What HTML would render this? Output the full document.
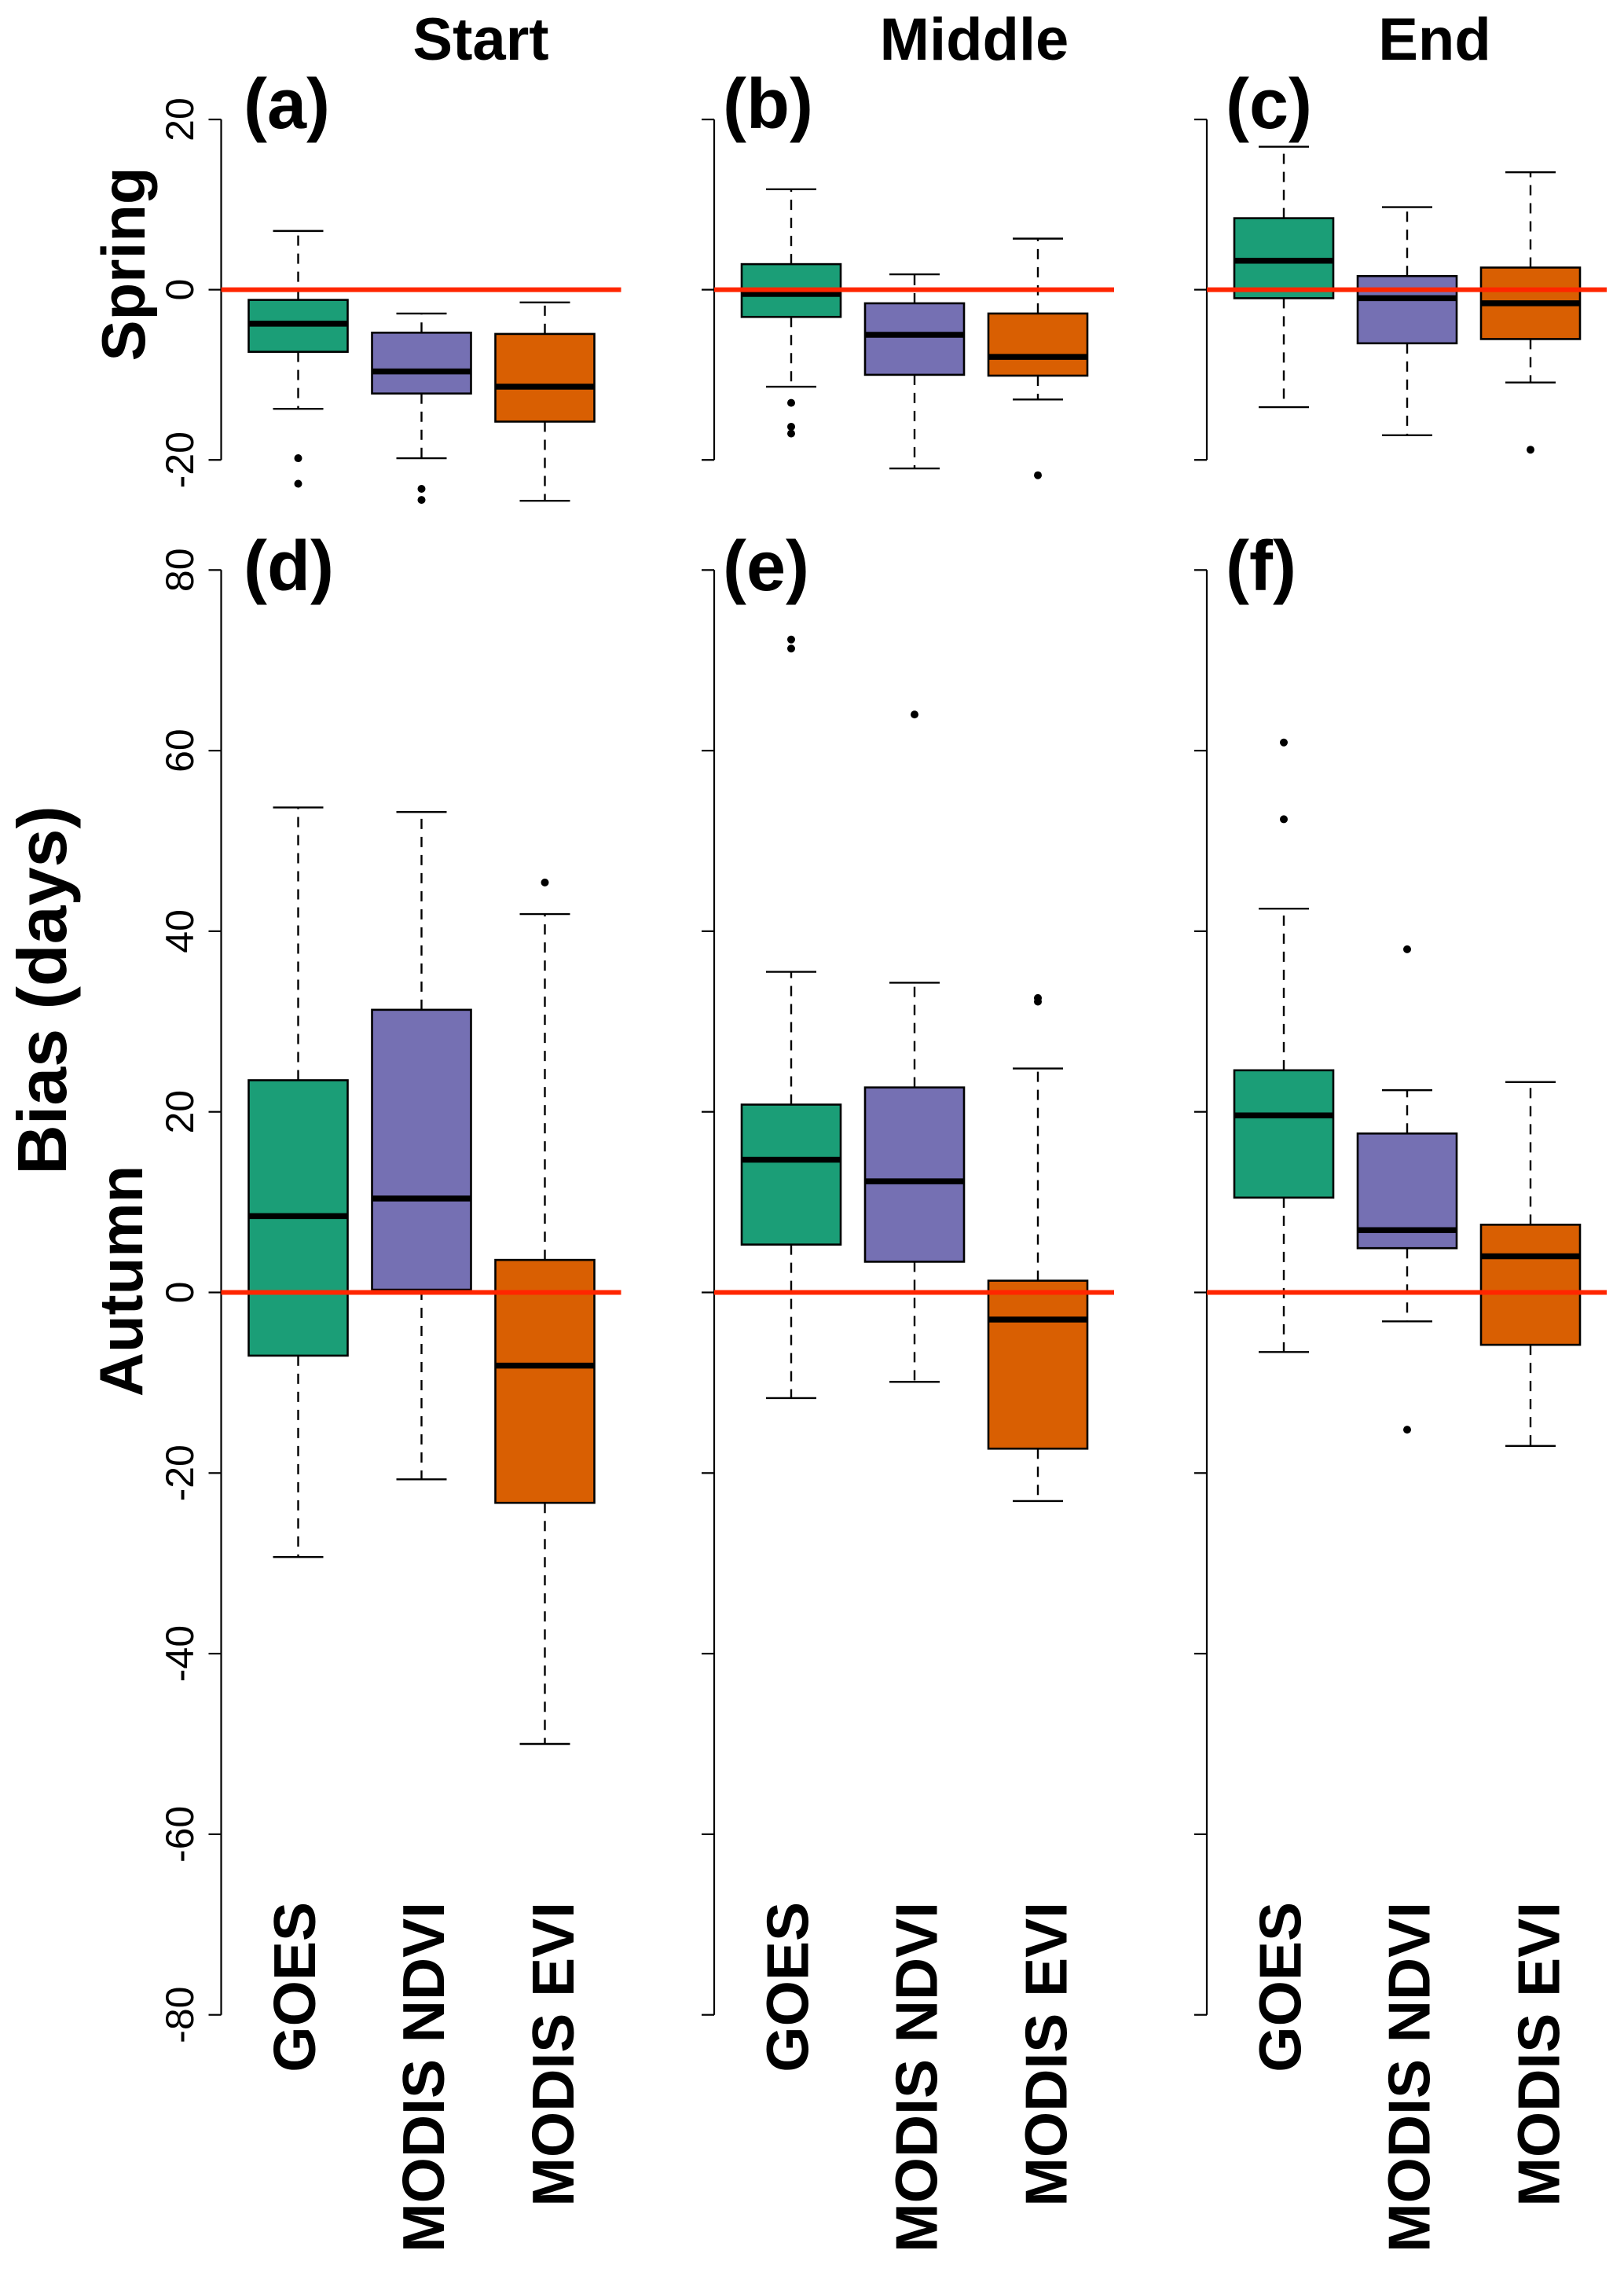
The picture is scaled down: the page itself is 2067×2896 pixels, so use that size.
<!DOCTYPE html>
<html><head><meta charset="utf-8"><style>
html,body{margin:0;padding:0;background:#fff;}
svg{display:block;}
text{font-family:"Liberation Sans",Arial,sans-serif;fill:#000;}
</style></head><body>
<svg id="chart" width="2067" height="2896" viewBox="0 0 2067 2896" xmlns="http://www.w3.org/2000/svg"></svg>
<script>
const categories = ["GOES", "MODIS NDVI", "MODIS EVI"];
const columnTitles = ["Start", "Middle", "End"];
const panelLetters = ["(a)", "(b)", "(c)", "(d)", "(e)", "(f)"];
const springTicks = [-20, 0, 20];
const autumnTicks = [-80, -60, -40, -20, 0, 20, 40, 60, 80];
// per panel (a..f), per category: [lowerWhisker, q1, median, q3, upperWhisker]
const lowerWhisker = [[-14, -19.8, -24.8], [-11.4, -21.0, -12.9], [-13.8, -17.1, -10.9], [-29.3, -20.7, -50], [-11.7, -9.9, -23.1], [-6.6, -3.2, -17]];
const q1Values = [[-7.3, -12.2, -15.5], [-3.2, -10, -10.1], [-1.0, -6.3, -5.8], [-7.0, 0.3, -23.3], [5.3, 3.4, -17.3], [10.5, 4.9, -5.8]];
const medianValues = [[-4, -9.6, -11.4], [-0.5, -5.3, -7.9], [3.4, -1.0, -1.6], [8.45, 10.4, -8.1], [14.7, 12.3, -3.0], [19.6, 6.9, 4.0]];
const q3Values = [[-1.2, -5.05, -5.2], [3.0, -1.6, -2.8], [8.4, 1.6, 2.6], [23.5, 31.3, 3.6], [20.8, 22.7, 1.3], [24.6, 17.6, 7.5]];
const upperWhisker = [[6.9, -2.8, -1.5], [11.8, 1.8, 6.0], [16.8, 9.7, 13.8], [53.7, 53.2, 41.9], [35.5, 34.3, 24.8], [42.5, 22.4, 23.3]];
const outlierValues = [[[-19.8, -22.8], [-23.4, -24.7], []], [[-13.3, -16.1, -16.9], [], [-21.8]], [[], [], [-18.8]], [[], [], [45.4]], [[71.3, 72.3], [64.0], [32.2, 32.6]], [[52.4, 60.9], [38.0, -15.2], []]];
const referenceValue = 0;

const NS = "http://www.w3.org/2000/svg";
const svg = document.getElementById("chart");
const colors = ["#1b9e77", "#7570b3", "#d95f02"];
const axisX = [281.5, 909, 1536];
const titleX = [612, 1240, 1826];
const boxOffset = [98, 255, 412];
const labelOffset = [119.6, 283.7, 448.3];
const boxW = 126, capW = 64, plotW = 509;
const rows = [
  {y0: 368.6, k: 10.83, top: 151.7, bot: 584.5, ticks: springTicks, lo: -20, hi: 20, labelY: 163},
  {y0: 1644.5, k: 11.49, top: 726.5, bot: 2564, ticks: autumnTicks, lo: -80, hi: 80, labelY: 751}
];
const letterX = [310, 920, 1560];
function yScale(row, v) { return row.y0 - v * row.k; }
function el(tag, attrs, parent) {
  const e = document.createElementNS(NS, tag);
  for (const a in attrs) e.setAttribute(a, attrs[a]);
  (parent || svg).appendChild(e);
  return e;
}

columnTitles.forEach((t, c) => {
  const tt = el("text", {x: titleX[c], y: 76, "font-size": 76, "font-weight": "bold", "text-anchor": "middle"});
  tt.textContent = t;
  
  
});

const sp = el("text", {x: 0, y: 0, "font-size": 78, "font-weight": "bold", "text-anchor": "middle", transform: "translate(184,336) rotate(-90)"});
sp.textContent = "Spring";


const au = el("text", {x: 0, y: 0, "font-size": 78, "font-weight": "bold", "text-anchor": "middle", transform: "translate(181,1630) rotate(-90)"});
au.textContent = "Autumn";


const yt = el("text", {x: 0, y: 0, "font-size": 88, "font-weight": "bold", "text-anchor": "middle", transform: "translate(84,1260) rotate(-90)"});
yt.textContent = "Bias (days)";



for (let r = 0; r < 2; r++) {
  const row = rows[r];
  for (let c = 0; c < 3; c++) {
    const p = r * 3 + c;
    const g = el("g", {});
    
    
    const ax = axisX[c];
    const axl = el("line", {x1: ax, x2: ax, y1: yScale(row, row.hi), y2: yScale(row, row.lo), stroke: "#000", "stroke-width": 2.2}, g);
    
    
    row.ticks.forEach(t => {
      const ty = yScale(row, t);
      const tk = el("line", {x1: ax - 16, x2: ax, y1: ty, y2: ty, stroke: "#000", "stroke-width": 2.2}, g);
      
      
      if (c === 0) {
        const tl = el("text", {x: 0, y: 0, "font-size": 50, "text-anchor": "middle", transform: "translate(246," + ty + ") rotate(-90)"}, g);
        tl.textContent = String(t);
        
        
      }
    });
    const pl = el("text", {x: letterX[c], y: row.labelY, "font-size": 90, "font-weight": "bold"}, g);
    pl.textContent = panelLetters[p];
    
    
    for (let k = 0; k < 3; k++) {
      const cx = ax + boxOffset[k];
      const lw = yScale(row, lowerWhisker[p][k]), b1 = yScale(row, q1Values[p][k]);
      const md = yScale(row, medianValues[p][k]), b3 = yScale(row, q3Values[p][k]);
      const uw = yScale(row, upperWhisker[p][k]);
      const wl = el("line", {x1: cx, x2: cx, y1: b1, y2: lw, stroke: "#000", "stroke-width": 2.4, "stroke-dasharray": "13,10"}, g);
      
      
      const wu = el("line", {x1: cx, x2: cx, y1: b3, y2: uw, stroke: "#000", "stroke-width": 2.4, "stroke-dasharray": "13,10"}, g);
      
      
      const cl = el("line", {x1: cx - capW / 2, x2: cx + capW / 2, y1: lw, y2: lw, stroke: "#000", "stroke-width": 2.4}, g);
      
      
      const cu = el("line", {x1: cx - capW / 2, x2: cx + capW / 2, y1: uw, y2: uw, stroke: "#000", "stroke-width": 2.4}, g);
      
      
      const bx = el("rect", {x: cx - boxW / 2, y: b3, width: boxW, height: b1 - b3, fill: colors[k], stroke: "#000", "stroke-width": 2.6}, g);
      
      
      const ml = el("line", {x1: cx - boxW / 2, x2: cx + boxW / 2, y1: md, y2: md, stroke: "#000", "stroke-width": 7.5}, g);
      
      
      outlierValues[p][k].forEach(v => {
        const o = el("circle", {cx: cx, cy: yScale(row, v), r: 5, fill: "#000"}, g);
        
        
      });
      if (r === 1) {
        const cxl = ax + labelOffset[k];
        const lb = el("text", {x: 0, y: 0, "font-size": 75, "font-weight": "bold", "text-anchor": "end", transform: "translate(" + cxl + ",2420) rotate(-90)"}, g);
        lb.textContent = categories[k];
        
        
      }
    }
    const ry = yScale(row, referenceValue);
    const rl = el("line", {x1: ax, x2: ax + plotW, y1: ry, y2: ry, stroke: "#ff2600", "stroke-width": 6}, g);
    
    
  }
}
</script>
</body></html>
